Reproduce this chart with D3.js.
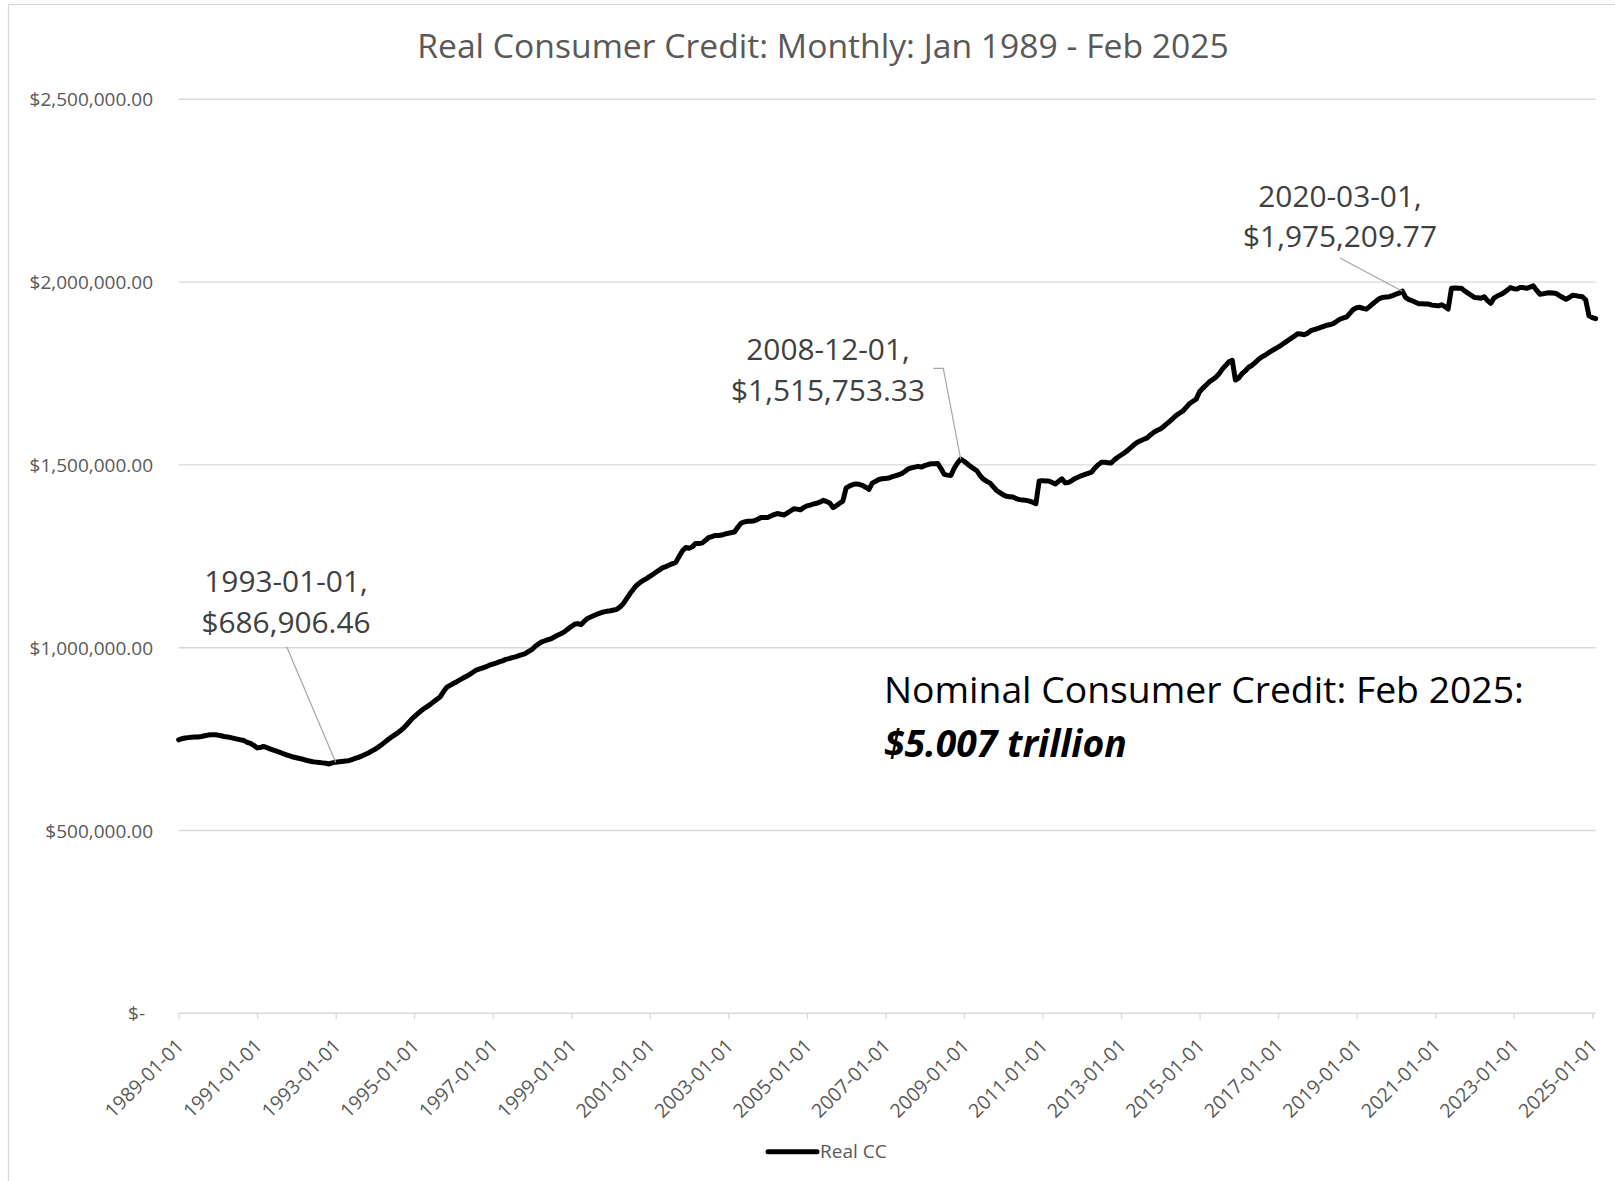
<!DOCTYPE html>
<html>
<head>
<meta charset="utf-8">
<script src="https://cdn.jsdelivr.net/npm/d3@7"></script>
<style>
  html, body { margin: 0; padding: 0; background: #ffffff; }
  svg { display: block; font-family: "Open Sans", "Noto Sans", sans-serif; }
</style>
</head>
<body>
<svg id="chart" width="1615" height="1181"></svg>
<script>
// Real consumer credit, monthly, in thousands of dollars, one row per year starting Jan 1989.
const seriesStart = "1989-01-01";
const realCCThousands = [
  /* 1989 */ 748, 751, 753, 754, 755, 756, 756, 757, 759, 761, 762, 762,
  /* 1990 */ 761, 759, 757, 756, 754, 752, 750, 748, 746, 741, 738, 733,
  /* 1991 */ 726, 727, 730, 727, 723, 720, 717, 714, 710, 707, 704, 701,
  /* 1992 */ 699, 697, 695, 692, 690, 688, 687, 686, 685, 684, 682, 685,
  /* 1993 */ 686.90646, 688, 689, 690, 691, 694, 697, 700, 704, 708, 712, 717,
  /* 1994 */ 722, 728, 734, 741, 748, 755, 761, 767, 774, 782, 792, 802,
  /* 1995 */ 811, 819, 826, 833, 839, 845, 852, 859, 866, 880, 892, 897,
  /* 1996 */ 902, 907, 912, 917, 922, 927, 933, 939, 942, 945, 948, 952,
  /* 1997 */ 955, 958, 961, 964, 968, 970, 973, 975, 978, 981, 984, 990,
  /* 1998 */ 995, 1004, 1010, 1016, 1019, 1022, 1025, 1030, 1035, 1039, 1044, 1051,
  /* 1999 */ 1058, 1064, 1066, 1063, 1072, 1080, 1084, 1088, 1092, 1095, 1098, 1100,
  /* 2000 */ 1101, 1103, 1105, 1112, 1121, 1135, 1148, 1160, 1171, 1178, 1184, 1189,
  /* 2001 */ 1195, 1201, 1207, 1213, 1219, 1222, 1226, 1230, 1234, 1250, 1265, 1274,
  /* 2002 */ 1272, 1276, 1285, 1285, 1286, 1293, 1301, 1304, 1307, 1307, 1308, 1311,
  /* 2003 */ 1313, 1315, 1317, 1330, 1341, 1344, 1346, 1346, 1347, 1351, 1356, 1356,
  /* 2004 */ 1356, 1360, 1364, 1367, 1365, 1363, 1368, 1374, 1380, 1379, 1377, 1383,
  /* 2005 */ 1388, 1390, 1393, 1395, 1398, 1403, 1400, 1396, 1383, 1388, 1395, 1401,
  /* 2006 */ 1437, 1442, 1446, 1448, 1447, 1444, 1439, 1433, 1450, 1455, 1460, 1462,
  /* 2007 */ 1463, 1464, 1467, 1470, 1473, 1476, 1482, 1489, 1492, 1494, 1496, 1494,
  /* 2008 */ 1498, 1501, 1503, 1503, 1504, 1490, 1474, 1472, 1471, 1490, 1505, 1515.75333,
  /* 2009 */ 1510, 1503, 1496, 1490, 1484, 1470, 1461, 1455, 1450, 1440, 1430, 1424,
  /* 2010 */ 1418, 1414, 1413, 1412, 1408, 1405, 1404, 1403, 1401, 1398, 1394, 1456,
  /* 2011 */ 1457, 1456, 1456, 1452, 1448, 1455, 1462, 1451, 1452, 1457, 1463, 1467,
  /* 2012 */ 1471, 1474, 1477, 1480, 1491, 1500, 1507, 1507, 1506, 1505, 1514, 1521,
  /* 2013 */ 1527, 1533, 1539, 1547, 1555, 1562, 1566, 1570, 1574, 1582, 1589, 1594,
  /* 2014 */ 1598, 1605, 1612, 1620, 1628, 1636, 1642, 1648, 1658, 1668, 1674, 1680,
  /* 2015 */ 1700, 1710, 1718, 1727, 1733, 1740, 1749, 1762, 1772, 1782, 1786, 1732,
  /* 2016 */ 1738, 1750, 1757, 1767, 1772, 1780, 1788, 1795, 1800, 1806, 1812, 1817,
  /* 2017 */ 1822, 1828, 1834, 1840, 1846, 1852, 1859, 1858, 1856, 1860, 1867, 1870,
  /* 2018 */ 1873, 1876, 1879, 1882, 1884, 1887, 1893, 1899, 1902, 1905, 1915, 1925,
  /* 2019 */ 1930, 1931, 1928, 1926, 1933, 1941, 1948, 1955, 1958, 1959, 1960, 1963,
  /* 2020 */ 1967, 1970, 1975.20977, 1958, 1952, 1949, 1945, 1941, 1941, 1940, 1940, 1937,
  /* 2021 */ 1936, 1935, 1938, 1933, 1926, 1983, 1984, 1983, 1983, 1976, 1970, 1964,
  /* 2022 */ 1958, 1957, 1956, 1960, 1950, 1942, 1956, 1962, 1966, 1971, 1978, 1985,
  /* 2023 */ 1982, 1981, 1985, 1985, 1983, 1986, 1990, 1978, 1967, 1968, 1970, 1971,
  /* 2024 */ 1970, 1969, 1963, 1958, 1953, 1958, 1964, 1963, 1961, 1960, 1951, 1908,
  /* 2025 */ 1903, 1900
];

const yTickValues = [0, 500000, 1000000, 1500000, 2000000, 2500000];
const xTickLabels = [
  "1989-01-01", "1991-01-01", "1993-01-01", "1995-01-01", "1997-01-01", "1999-01-01",
  "2001-01-01", "2003-01-01", "2005-01-01", "2007-01-01", "2009-01-01", "2011-01-01",
  "2013-01-01", "2015-01-01", "2017-01-01", "2019-01-01", "2021-01-01", "2023-01-01",
  "2025-01-01"
];
const calloutDates = ["1993-01-01", "2008-12-01", "2020-03-01"];
const titleText = "Real Consumer Credit: Monthly: Jan 1989 - Feb 2025";
const noteLines = ["Nominal Consumer Credit: Feb 2025:", "$5.007 trillion"];
const legendLabel = "Real CC";

// ---- build the monthly table ----
const parseDay = d3.utcParse("%Y-%m-%d");
const fmtDay = d3.utcFormat("%Y-%m-%d");
const start = parseDay(seriesStart);
const series = realCCThousands.map((k, i) => ({
  date: d3.utcMonth.offset(start, i),
  value: k * 1000
}));
const byDay = new Map(series.map(d => [fmtDay(d.date), d]));

// ---- layout ----
const svg = d3.select("#chart");
const axisGray = "#d9d9d9";
const textGray = "#595959";

const x = d3.scaleUtc()
  .domain([parseDay("1989-01-01"), parseDay("2025-01-01")])
  .range([178.6, 1592.3]);
const y = d3.scaleLinear()
  .domain([0, 2500000])
  .range([1013.3, 99.3]);

const plotLeft = x(series[0].date);
const plotRight = x(series[series.length - 1].date);

function fitFont(sel, width) {
  sel.style("font-size", "100px");
  const w = sel.node().getComputedTextLength();
  const size = 100 * width / w;
  sel.style("font-size", size + "px");
  return size;
}

// chart frame
svg.append("rect")
  .attr("x", 8.5).attr("y", 4.5)
  .attr("width", 1640).attr("height", 1220)
  .attr("fill", "none").attr("stroke", axisGray).attr("stroke-width", 1.3);

// title
const title = svg.append("text")
  .attr("x", 823).attr("y", 58)
  .attr("text-anchor", "middle")
  .attr("fill", textGray)
  .text(titleText);
fitFont(title, 812);

// horizontal gridlines
svg.append("g")
  .selectAll("line")
  .data(yTickValues.filter(v => v > 0))
  .join("line")
  .attr("x1", plotLeft).attr("x2", plotRight)
  .attr("y1", d => y(d)).attr("y2", d => y(d))
  .attr("stroke", axisGray).attr("stroke-width", 1.4);

// y axis labels
const yAxis = d3.axisLeft(y)
  .tickValues(yTickValues)
  .tickSize(0)
  .tickPadding(0)
  .tickFormat(v => v === 0 ? "$-" : d3.format("$,.2f")(v));
const yAxisG = svg.append("g")
  .attr("transform", "translate(153,0)")
  .call(yAxis);
yAxisG.select(".domain").remove();
yAxisG.selectAll("text")
  .attr("x", d => d === 0 ? -8 : 0)
  .attr("dy", "0.35em")
  .attr("fill", textGray)
  .style("font-family", "'Open Sans', sans-serif")
  .style("font-size", "19px");

// x axis
const xAxis = d3.axisBottom(x)
  .tickValues(xTickLabels.map(parseDay))
  .tickSize(6)
  .tickFormat(fmtDay);
const xAxisG = svg.append("g")
  .attr("transform", `translate(0,${y(0)})`)
  .call(xAxis);
xAxisG.select(".domain").remove();
xAxisG.append("line")
  .attr("x1", plotLeft).attr("x2", plotRight)
  .attr("y1", 0).attr("y2", 0)
  .attr("stroke", axisGray).attr("stroke-width", 1.4);
xAxisG.selectAll(".tick line")
  .attr("stroke", axisGray).attr("stroke-width", 1.3);
xAxisG.selectAll(".tick text")
  .attr("x", 0).attr("y", 0).attr("dy", "0.35em")
  .attr("text-anchor", "end")
  .attr("transform", "translate(1,29) rotate(-45)")
  .attr("fill", textGray)
  .style("font-family", "'Open Sans', sans-serif")
  .style("font-size", "19.5px");

// the series line
const line = d3.line()
  .x(d => x(d.date))
  .y(d => y(d.value));
svg.append("path")
  .datum(series)
  .attr("d", line)
  .attr("fill", "none")
  .attr("stroke", "#000000")
  .attr("stroke-width", 5)
  .attr("stroke-linejoin", "round")
  .attr("stroke-linecap", "round");

// data callouts
const calloutLayout = {
  "1993-01-01": { cx: 286, base: 592, leader: [[286.7, 646.7]] },
  "2008-12-01": { cx: 828, base: 360, leader: [[933.3, 368.3], [943.3, 368.3]] },
  "2020-03-01": { cx: 1340, base: 206.7, leader: [[1340, 258]] }
};
const callG = svg.append("g");
let calloutSize = null;
calloutDates.forEach(day => {
  const d = byDay.get(day);
  const lay = calloutLayout[day];
  const px = x(d.date), py = y(d.value);
  const pts = lay.leader.concat([[px, py]]);
  callG.append("path")
    .attr("d", d3.line()(pts))
    .attr("fill", "none")
    .attr("stroke", "#a6a6a6")
    .attr("stroke-width", 1.2);
  const lines = [day + ",", d3.format("$,.2f")(d.value)];
  const t = callG.append("text")
    .attr("text-anchor", "middle")
    .attr("fill", "#404040");
  lines.forEach((s, i) => {
    t.append("tspan")
      .attr("x", lay.cx)
      .attr("y", lay.base + i * 40.5)
      .text(s);
  });
  if (calloutSize === null) {
    const probe = svg.append("text").text("$1,975,209.77");
    calloutSize = fitFont(probe, 194);
    probe.remove();
  }
  t.style("font-size", calloutSize + "px");
});

// nominal credit note
const note1 = svg.append("text")
  .attr("x", 884).attr("y", 703)
  .attr("fill", "#000000")
  .text(noteLines[0]);
const noteSize = fitFont(note1, 640);
svg.append("text")
  .attr("x", 884).attr("y", 757)
  .attr("fill", "#000000")
  .style("font-size", noteSize + "px")
  .style("font-weight", "bold")
  .style("font-style", "italic")
  .text(noteLines[1]);

// legend
const legend = svg.append("g").attr("transform", "translate(768,1151.7)");
legend.append("line")
  .attr("x1", 0).attr("x2", 49)
  .attr("y1", 0).attr("y2", 0)
  .attr("stroke", "#000000").attr("stroke-width", 5)
  .attr("stroke-linecap", "round");
legend.append("text")
  .attr("x", 52).attr("y", 0).attr("dy", "0.35em")
  .attr("fill", textGray)
  .style("font-size", "19px")
  .text(legendLabel);
</script>
</body>
</html>
